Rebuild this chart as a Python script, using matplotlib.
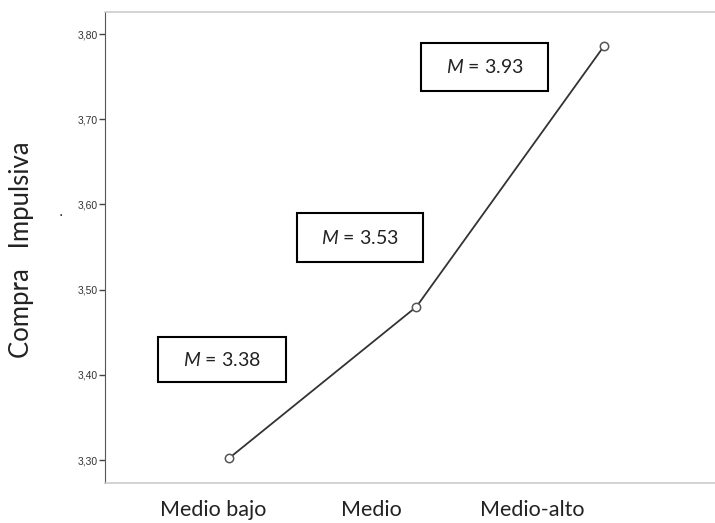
import numpy as np
import matplotlib.pyplot as plt

plt.rcParams['mathtext.fontset'] = 'custom'
plt.rcParams['mathtext.it'] = 'Lato:italic'
plt.rcParams['mathtext.rm'] = 'Lato'

# data
niveles = ['Medio bajo', 'Medio', 'Medio-alto']
medias = [3.302, 3.480, 3.786]
etiquetas = ['3.38', '3.53', '3.93']
yticks = [3.30, 3.40, 3.50, 3.60, 3.70, 3.80]

fig = plt.figure(figsize=(7.15, 5.23), dpi=100)
ax = fig.add_axes([105/715, 1-483/523, 1-105/715, (483-12)/523])

x = np.arange(len(niveles))
ax.plot(x, medias, color='#333333', lw=1.3, marker='o', ms=6,
        mfc='white', mec='#555555', mew=1.1)

ax.set_xlim(-0.661, 2.592)
ax.set_ylim(3.273, 3.826)
ax.set_yticks(yticks)
ax.set_yticklabels([('%.2f' % v).replace('.', ',') for v in yticks], fontsize=7.5,
                   family='Liberation Sans', color='#333333')
ax.set_xticks([])
ax.tick_params(axis='y', length=4, width=1, color='#444444', pad=1)

for s in ['top', 'bottom']:
    ax.spines[s].set_color('#cccccc')
    ax.spines[s].set_linewidth(1.2)
ax.spines['left'].set_color('#555555')
ax.spines['right'].set_visible(False)

# annotation boxes (pixel layout)
cajas = [(158, 337, 286, 382), (297, 213, 423, 262), (421, 43, 548, 91)]
for (x0, y0, x1, y1), lab in zip(cajas, etiquetas):
    fig.patches.append(plt.Rectangle((x0/715, 1-y1/523), (x1-x0)/715, (y1-y0)/523,
                                     transform=fig.transFigure, fill=False,
                                     ec='black', lw=1.5))
    fig.text((x0+x1)/2/715, 1-(y0+y1)/2/523, r'$M$ = ' + lab,
             ha='center', va='center', fontsize=14, family='Lato',
             color='#222222')

# category labels below the axis (kept fully inside the image)
for xc, lab in zip([213, 371, 532], niveles):
    fig.text(xc/715, 1-500/523, lab, ha='center', va='top', fontsize=15.5,
             family='Lato', color='#222222')

fig.text(22/715, 1-250/523, 'Compra   Impulsiva', rotation=90, ha='center',
         va='center', fontsize=18.5, family='Lato', color='#222222')
fig.text(61/715, 1-212/523, '.', ha='center', va='center', fontsize=10,
         color='#222222')

fig.savefig('out.png', dpi=100)
